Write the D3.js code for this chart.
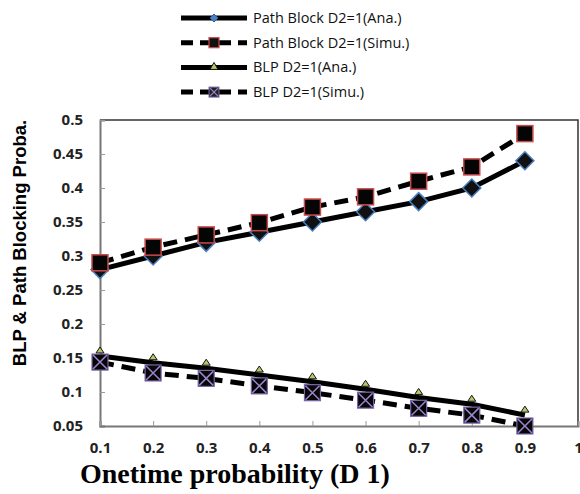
<!DOCTYPE html>
<html>
<head>
<meta charset="utf-8">
<script src="https://cdn.jsdelivr.net/npm/d3@7"></script>
<style>
  body { margin: 0; background: #fff; }
</style>
</head>
<body>
<div id="canvas"></div>
<script>
// data
const xValues = [0.1, 0.2, 0.3, 0.4, 0.5, 0.6, 0.7, 0.8, 0.9];
const pathAna = [0.28, 0.30, 0.32, 0.335, 0.35, 0.365, 0.38, 0.40, 0.44];
const pathSimu = [0.29, 0.313, 0.331, 0.349, 0.372, 0.387, 0.41, 0.431, 0.48];
const blpAna = [0.153, 0.143, 0.135, 0.125, 0.115, 0.104, 0.092, 0.082, 0.066];
const blpSimu = [0.144, 0.128, 0.12, 0.109, 0.099, 0.088, 0.076, 0.066, 0.05];
const xTicks = [0.1, 0.2, 0.3, 0.4, 0.5, 0.6, 0.7, 0.8, 0.9, 1];
const yTicks = [0.05, 0.1, 0.15, 0.2, 0.25, 0.3, 0.35, 0.4, 0.45, 0.5];
const legendLabels = ["Path Block D2=1(Ana.)", "Path Block D2=1(Simu.)", "BLP D2=1(Ana.)", "BLP D2=1(Simu.)"];

const W = 580, H = 494;
const margin = {top: 120, right: 2, bottom: 68, left: 100};

const svg = d3.select("#canvas")
    .append("svg")
    .attr("width", W)
    .attr("height", H);

const x = d3.scaleLinear().domain([0.1, 1]).range([margin.left, W - margin.right]);
const y = d3.scaleLinear().domain([0.05, 0.5]).range([H - margin.bottom, margin.top]);

// frame: top and right lines
svg.append("path")
    .attr("d", `M${x(0.1)},${y(0.5)}H${x(1)}V${y(0.05)}`)
    .attr("fill", "none")
    .attr("stroke", "#333")
    .attr("stroke-width", 1.5);

// y axis, ticks pointing inward
const yAxis = svg.append("g")
    .attr("transform", `translate(${x(0.1)},0)`)
    .call(d3.axisRight(y).tickValues(yTicks).tickSize(5).tickFormat(d => d3.format("")(d)));
yAxis.select(".domain").attr("stroke", "#777").attr("stroke-width", 2);
yAxis.selectAll(".tick line").attr("stroke", "#999");
yAxis.selectAll(".tick text")
    .attr("x", -17)
    .attr("text-anchor", "end")
    .style("font-family", "'Open Sans', sans-serif")
    .style("font-size", "15px")
    .style("font-weight", "bold")
    .attr("fill", "#222");

// x axis, ticks pointing inward
const xAxis = svg.append("g")
    .attr("transform", `translate(0,${y(0.05)})`)
    .call(d3.axisTop(x).tickValues(xTicks).tickSize(5).tickFormat(d => d3.format("")(d)));
xAxis.select(".domain").attr("stroke", "#777").attr("stroke-width", 2);
xAxis.selectAll(".tick line").attr("stroke", "#999");
xAxis.selectAll(".tick text")
    .attr("y", 22)
    .attr("dy", "0.35em")
    .style("font-family", "'Open Sans', sans-serif")
    .style("font-size", "15px")
    .style("font-weight", "bold")
    .attr("fill", "#222");

// axis titles
svg.append("text")
    .attr("transform", `translate(26,243) rotate(-90)`)
    .attr("text-anchor", "middle")
    .style("font-family", "'Liberation Sans', Arial, sans-serif")
    .style("font-size", "18.5px")
    .style("font-weight", "bold")
    .text("BLP & Path Blocking Proba.");

svg.append("text")
    .attr("x", 80)
    .attr("y", 483)
    .style("font-family", "'Liberation Serif', 'Times New Roman', serif")
    .style("font-size", "28px")
    .style("font-weight", "bold")
    .text("Onetime probability (D 1)");

const line = d3.line().x(d => x(d[0])).y(d => y(d[1]));

const series = [
    {vals: pathAna, dash: null, marker: "diamond"},
    {vals: pathSimu, dash: "14,8", marker: "square"},
    {vals: blpAna, dash: null, marker: "triangle"},
    {vals: blpSimu, dash: "14,8", marker: "cross"}
];

function drawMarker(g, type, cx, cy) {
    if (type === "diamond") {
        g.append("path")
            .attr("d", `M${cx},${cy - 9}L${cx + 9},${cy}L${cx},${cy + 9}L${cx - 9},${cy}Z`)
            .attr("fill", "#111").attr("stroke", "#4a7fc0").attr("stroke-width", 1.5);
    } else if (type === "square") {
        g.append("rect")
            .attr("x", cx - 8).attr("y", cy - 8).attr("width", 16).attr("height", 16)
            .attr("fill", "#050505").attr("stroke", "#c94a4a").attr("stroke-width", 1.5);
    } else if (type === "triangle") {
        g.append("path")
            .attr("d", `M${cx},${cy - 9}L${cx + 4},${cy - 3}L${cx - 4},${cy - 3}Z`)
            .attr("fill", "#b5c96a").attr("stroke", "#111").attr("stroke-width", 1);
    } else {
        g.append("rect")
            .attr("x", cx - 8).attr("y", cy - 8).attr("width", 16).attr("height", 16)
            .attr("fill", "#070707").attr("stroke", "#7a66a8").attr("stroke-width", 1.2);
        g.append("path")
            .attr("d", `M${cx - 7},${cy - 7}L${cx + 7},${cy + 7}M${cx + 7},${cy - 7}L${cx - 7},${cy + 7}`)
            .attr("stroke", "#9a86d0").attr("stroke-width", 1.5);
    }
}

series.forEach(s => {
    const pts = xValues.map((v, i) => [v, s.vals[i]]);
    svg.append("path")
        .datum(pts)
        .attr("d", line)
        .attr("fill", "none")
        .attr("stroke", "#000")
        .attr("stroke-width", 5)
        .attr("stroke-dasharray", s.dash);
    const g = svg.append("g");
    pts.forEach(p => drawMarker(g, s.marker, x(p[0]), y(p[1])));
});

// legend
const legend = svg.append("g");
series.forEach((s, i) => {
    const ly = 18 + i * 24.7;
    legend.append("line")
        .attr("x1", 181).attr("x2", 247).attr("y1", ly).attr("y2", ly)
        .attr("stroke", "#000").attr("stroke-width", 5)
        .attr("stroke-dasharray", s.dash ? "12,7" : null);
    const mg = legend.append("g");
    if (s.marker === "diamond") {
        mg.append("path").attr("d", `M214,${ly - 4}L218,${ly}L214,${ly + 4}L210,${ly}Z`)
            .attr("fill", "#4a7fc0").attr("stroke", "#2a5f9f");
    } else if (s.marker === "square") {
        mg.append("rect").attr("x", 209).attr("y", ly - 5).attr("width", 10).attr("height", 10)
            .attr("fill", "#111").attr("stroke", "#c94a4a").attr("stroke-width", 1.2);
    } else if (s.marker === "triangle") {
        mg.append("path").attr("d", `M214,${ly - 5}L218,${ly + 2}L210,${ly + 2}Z`)
            .attr("fill", "#b5c96a").attr("stroke", "#111");
    } else {
        mg.append("rect").attr("x", 209).attr("y", ly - 5).attr("width", 10).attr("height", 10)
            .attr("fill", "#222").attr("stroke", "#7a66a8");
        mg.append("path").attr("d", `M210,${ly - 4}L218,${ly + 4}M218,${ly - 4}L210,${ly + 4}`)
            .attr("stroke", "#9a86d0").attr("stroke-width", 1.2);
    }
    legend.append("text")
        .attr("x", 253).attr("y", ly)
        .attr("dy", "0.35em")
        .style("font-family", "'Open Sans', sans-serif")
        .style("font-size", "14.5px")
        .attr("fill", "#111")
        .text(legendLabels[i]);
});
</script>
</body>
</html>
